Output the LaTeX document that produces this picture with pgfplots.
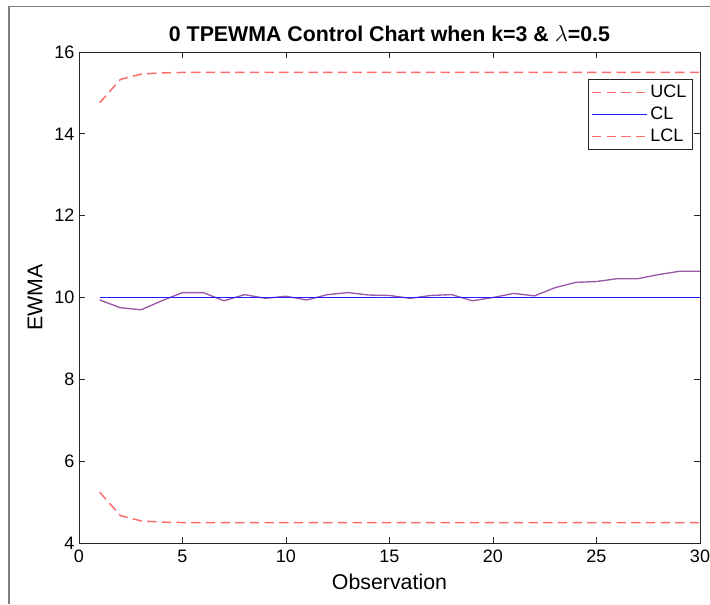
\documentclass[border=0pt]{standalone}
\usepackage{fontspec}
\setmainfont{Liberation Sans}
\usepackage{pgfplots}
\pgfplotsset{compat=1.18}
\definecolor{limred}{RGB}{255,106,106}
\definecolor{clblue}{RGB}{30,30,255}
\definecolor{ewma}{RGB}{154,88,168}
\definecolor{axgray}{RGB}{38,38,38}
\definecolor{framegray}{RGB}{128,128,128}

\begin{document}
\begin{tikzpicture}[x=0.75pt,y=0.75pt]
\useasboundingbox (-79,-61) rectangle (631,543);
\begin{axis}[
  at={(0,0)}, anchor=south west,
  scale only axis, width=621*0.75pt, height=491*0.75pt,
  xmin=0, xmax=30, ymin=4, ymax=16,
  xtick={0,5,...,30}, ytick={4,6,...,16},
  tick align=inside, major tick length=4.5pt,
  axis line style={draw=axgray, line width=0.7pt},
  tick style={draw=axgray, line width=0.7pt},
  tick label style={font=\fontsize{13.5}{15}\selectfont},
  xticklabel style={yshift=-2pt},
  /pgf/number format/assume math mode=true,
  xlabel={Observation}, ylabel={EWMA},
  label style={font=\fontsize{16}{18}\selectfont},
  xlabel style={yshift=-1pt},
  ylabel style={yshift=2pt},
  title={\textbf{0 TPEWMA Control Chart when k=3 \& $\lambda$=0.5}},
  title style={font=\fontsize{16}{18}\selectfont, yshift=-2pt},
  legend style={at={(0.988,0.945)}, anchor=north east, draw=axgray,
    font=\fontsize{13.5}{15}\selectfont, row sep=1.5pt, inner sep=2.5pt},
  legend cell align=left,
  legend image code/.code={\draw[#1] (0cm,0cm) -- (1.45cm,0cm);},
  every axis plot/.append style={mark=none},
]
\addplot[ewma, line width=1pt, forget plot] coordinates {
(1,9.94)(2,9.75)(3,9.70)(4,9.92)(5,10.12)(6,10.12)(7,9.92)(8,10.07)(9,9.98)(10,10.03)
(11,9.94)(12,10.07)(13,10.12)(14,10.06)(15,10.05)(16,9.98)(17,10.05)(18,10.07)(19,9.92)(20,10.00)
(21,10.10)(22,10.04)(23,10.24)(24,10.37)(25,10.39)(26,10.46)(27,10.46)(28,10.56)(29,10.64)(30,10.64)};
\addplot[limred, dashed, dash pattern=on 7pt off 4pt, line width=1.1pt] coordinates {
(1,14.76)(2,15.33)(3,15.46)(4,15.49)(5,15.50)(6,15.50)(7,15.50)(8,15.50)(9,15.50)(10,15.50)
(11,15.50)(12,15.50)(13,15.50)(14,15.50)(15,15.50)(16,15.50)(17,15.50)(18,15.50)(19,15.50)(20,15.50)
(21,15.50)(22,15.50)(23,15.50)(24,15.50)(25,15.50)(26,15.50)(27,15.50)(28,15.50)(29,15.50)(30,15.50)};
\addlegendentry{UCL}
\addplot[clblue, line width=1.1pt] coordinates {
(1,10)(2,10)(3,10)(4,10)(5,10)(6,10)(7,10)(8,10)(9,10)(10,10)
(11,10)(12,10)(13,10)(14,10)(15,10)(16,10)(17,10)(18,10)(19,10)(20,10)
(21,10)(22,10)(23,10)(24,10)(25,10)(26,10)(27,10)(28,10)(29,10)(30,10)};
\addlegendentry{CL}
\addplot[limred, dashed, dash pattern=on 7pt off 4pt, line width=1.1pt] coordinates {
(1,5.24)(2,4.67)(3,4.54)(4,4.51)(5,4.50)(6,4.50)(7,4.50)(8,4.50)(9,4.50)(10,4.50)
(11,4.50)(12,4.50)(13,4.50)(14,4.50)(15,4.50)(16,4.50)(17,4.50)(18,4.50)(19,4.50)(20,4.50)
(21,4.50)(22,4.50)(23,4.50)(24,4.50)(25,4.50)(26,4.50)(27,4.50)(28,4.50)(29,4.50)(30,4.50)};
\addlegendentry{LCL}
\end{axis}
\draw[draw=framegray, line width=1.4pt] (-70,-61) -- (-70,536.5) -- (631,536.5);
\end{tikzpicture}
\end{document}
